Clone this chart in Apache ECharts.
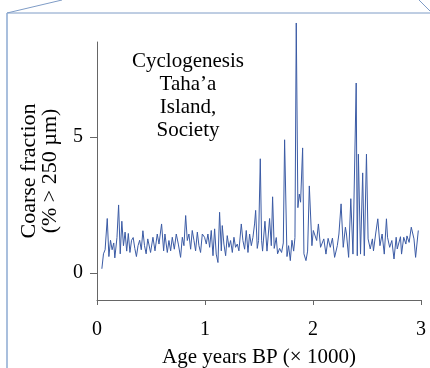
<!DOCTYPE html>
<html>
<head>
<meta charset="utf-8">
<script src="https://cdn.jsdelivr.net/npm/echarts@6/dist/echarts.min.js"></script>
<style>html,body{margin:0;padding:0;background:#fff;}#c{width:430px;height:368px;}</style>
</head>
<body>
<div id="c"></div>
<script>
// Age (x 1000 years BP) and coarse fraction (% > 250 µm)
var ages = [0.045,0.06,0.075,0.095,0.11,0.125,0.14,0.155,0.165,0.185,0.2,0.215,0.23,0.245,0.26,0.275,0.29,0.305,0.32,0.335,0.35,0.365,0.38,0.395,0.41,0.425,0.44,0.455,0.47,
0.481,0.496,0.518,0.537,0.558,0.574,0.598,0.617,0.629,0.651,0.666,0.682,0.697,0.716,0.734,0.753,0.774,0.79,0.805,0.821,0.836,0.851,0.867,0.882,0.898,0.913,0.929,0.944,0.959,0.975,
0.996,1.012,1.027,1.043,1.058,1.074,1.089,1.104,1.12,1.135,1.151,1.16,1.175,1.191,1.206,1.222,1.237,1.253,1.268,1.283,1.299,1.314,1.336,1.351,1.367,1.382,1.398,1.413,1.429,1.444,1.459,1.469,1.484,
1.496,1.512,1.524,1.533,1.555,1.574,1.598,1.614,1.626,1.641,1.66,1.672,1.691,1.709,1.725,1.737,1.759,1.774,1.79,1.805,1.821,1.833,1.845,1.86,1.873,1.885,1.904,1.916,1.935,1.95,1.966,1.99,
2.003,2.034,2.05,2.07,2.10,2.12,2.14,2.16,2.18,2.20,2.225,2.24,2.26,2.28,2.30,2.31,2.33,2.35,2.37,2.38,2.40,2.41,2.42,2.44,2.46,2.475,2.495,2.51,2.53,2.55,2.56,2.58,2.60,2.62,2.64,2.66,2.68,2.69,2.71,2.73,2.75,2.77,2.78,2.81,2.82,2.84,2.86,2.87,2.89,2.91,2.935,2.95,2.975];
var coarse = [0.15,0.7,0.85,2.0,0.6,1.2,0.85,1.1,0.55,1.3,2.5,0.7,1.9,1.0,1.5,0.8,1.45,0.75,1.2,1.3,0.9,0.6,1.0,1.2,0.85,1.55,1.0,0.7,1.25,
1.19,0.75,1.31,0.81,1.43,1.06,1.8,0.81,1.43,0.75,1.19,0.81,1.31,0.87,1.43,1.06,0.57,1.31,1.0,2.11,1.19,1.43,0.87,1.56,1.19,0.81,1.5,1.0,0.75,1.43,
1.31,1.06,1.43,0.94,1.56,0.63,1.62,0.69,0.38,2.23,0.81,1.74,1.06,0.63,1.37,0.94,1.19,0.75,1.31,0.94,1.06,0.81,1.8,1.19,0.87,1.56,0.75,1.43,1.0,1.31,1.8,2.3,0.9,
1.19,4.2,1.2,0.8,1.9,0.8,2.0,1.0,2.8,0.9,1.3,0.7,0.9,0.75,1.1,4.9,0.6,1.0,0.45,1.2,0.8,1.3,9.2,2.4,2.9,2.6,4.6,0.7,0.45,0.8,3.2,1.0,
1.56,1.19,1.80,0.94,1.25,0.69,1.27,0.94,1.28,0.57,1.0,1.43,2.54,0.94,1.68,1.43,0.57,2.73,0.69,0.69,6.99,0.63,4.37,0.69,3.68,0.63,4.37,1.25,0.88,1.25,0.81,1.43,1.99,1.0,1.43,0.69,1.99,1.31,0.94,1.19,0.51,1.31,0.88,1.33,0.69,1.31,1.06,1.36,1.12,1.68,1.25,0.57,1.56];
var xTicks = [0, 1, 2, 3];
var yTicks = [0, 5];
var noteLines = ['Cyclogenesis', 'Taha\u2019a', 'Island,', 'Society'];

var data = ages.map(function (a, i) { return [a, coarse[i]]; });
var serif = '"Liberation Serif", "Times New Roman", serif';
var chart = echarts.init(document.getElementById('c'), null, {renderer: 'canvas'});
chart.setOption({
  animation: false,
  backgroundColor: '#fff',
  grid: {left: 97, right: 9, top: 42, bottom: 68, containLabel: false, outerBoundsMode: 'none'},
  xAxis: {
    type: 'value', min: 0, max: 3, interval: 1,
    axisLine: {show: true, onZero: false, lineStyle: {color: '#666', width: 1}},
    axisTick: {show: true, length: 5, customValues: xTicks, lineStyle: {color: '#666'}},
    splitLine: {show: false},
    axisLabel: {customValues: xTicks, color: '#000', fontFamily: serif, fontSize: 20, margin: 20},
    name: 'Age years BP (\u00d7 1000)', nameLocation: 'middle', nameGap: 47,
    nameTextStyle: {color: '#000', fontFamily: serif, fontSize: 21, verticalAlign: 'top'}
  },
  yAxis: {
    type: 'value', min: -1, max: 8.5,
    axisLine: {show: true, onZero: false, lineStyle: {color: '#666', width: 1}},
    axisTick: {show: true, length: 7, customValues: yTicks, lineStyle: {color: '#666'}},
    splitLine: {show: false},
    axisLabel: {customValues: yTicks, color: '#000', fontFamily: serif, fontSize: 20, margin: 14},
    name: 'Coarse fraction\n(% > 250 \u00b5m)', nameLocation: 'middle', nameGap: 36, nameRotate: 90,
    nameTextStyle: {color: '#000', fontFamily: serif, fontSize: 22, lineHeight: 21, align: 'center'}
  },
  graphic: [
    {type: 'line', silent: true, shape: {x1: 7, y1: 13, x2: 430, y2: 13}, style: {stroke: '#7f9cc6', lineWidth: 1}},
    {type: 'line', silent: true, shape: {x1: 7, y1: 13, x2: 7, y2: 368}, style: {stroke: '#a9bfdd', lineWidth: 2}},
    {type: 'line', silent: true, shape: {x1: 7, y1: 13, x2: 62, y2: 0}, style: {stroke: '#7f9cc6', lineWidth: 1}},
    {type: 'line', silent: true, shape: {x1: 419, y1: 0, x2: 430, y2: 11}, style: {stroke: '#7f9cc6', lineWidth: 1}},
    {type: 'text', silent: true, x: 188, y: 50,
      style: {text: noteLines.join('\n'), textAlign: 'center', textVerticalAlign: 'top', fill: '#000',
        font: '21px ' + serif, lineHeight: 23}}
  ],
  series: [{
    type: 'line', data: data, showSymbol: false, clip: false,
    lineStyle: {color: '#3b5ba5', width: 1}
  }]
});
</script>
</body>
</html>
